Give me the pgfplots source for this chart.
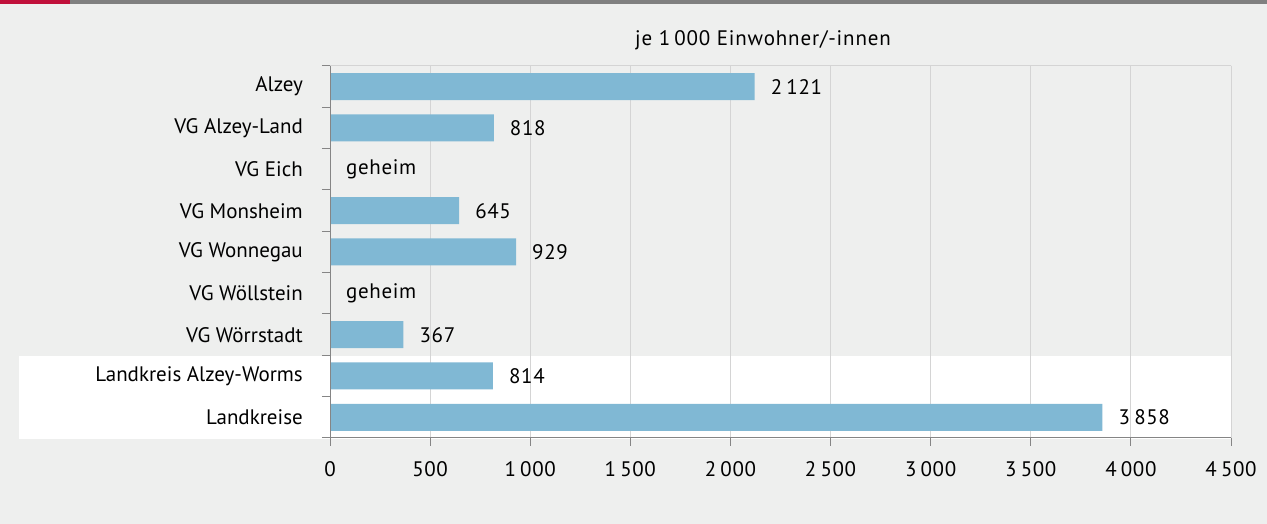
\documentclass[border=0pt]{standalone}
\usepackage{fontspec}
\setmainfont{PT Sans}
\newfontfamily\numfont{PT Sans}[LetterSpace=3]
\newfontfamily\titlefont{PT Sans}[LetterSpace=4]
\newcommand\ts{\hspace{0.2em}}
\usepackage{pgfplots}
\pgfplotsset{compat=1.18}
\definecolor{bg}{HTML}{EEEFEE}
\definecolor{barc}{HTML}{80B8D4}
\definecolor{gridc}{HTML}{D4D4D4}
\definecolor{axc}{HTML}{858585}
\definecolor{topred}{HTML}{C0103A}
\definecolor{topgray}{HTML}{808080}
\begin{document}
\fontsize{21}{25}\selectfont
\begin{tikzpicture}[font=\fontsize{21}{25}\selectfont]
\useasboundingbox (0,0) rectangle (1267pt,524pt);
\fill[bg] (0,0) rectangle (1267pt,524pt);
\fill[topgray] (0,520pt) rectangle (1267pt,524pt);
\fill[topred] (0,520pt) rectangle (70pt,524pt);
\fill[white] (19pt,85pt) rectangle (1232pt,168pt);
\node[anchor=base, inner sep=0pt, font=\fontsize{21}{25}\titlefont] at (763pt,478pt) {je 1\ts000 Einwohner/-innen};
\begin{axis}[
  at={(330pt,86pt)}, anchor=south west,
  scale only axis, width=901pt, height=372pt,
  xbar, bar width=27pt,
  xmin=0, xmax=4500, ymin=-0.5, ymax=8.5,
  xtick={0,500,...,4500},
  xtick pos=bottom, ytick pos=left,
  scaled x ticks=false,
  xticklabel style={inner sep=0pt, yshift=-15pt, font=\fontsize{21}{25}\numfont, /pgf/number format/.cd, 1000 sep={\ts}, assume math mode=true},
  ytick={-0.5,0.5,...,8.5},
  yticklabels={},
  extra y ticks={0,1,2,3,4,5,6,7,8},
  extra y tick labels={Landkreise,Landkreis Alzey-Worms,VG Wörrstadt,VG Wöllstein,VG Wonnegau,VG Monsheim,VG Eich,VG Alzey-Land,Alzey},
  extra y tick style={major tick length=0pt, yticklabel style={inner sep=0pt, anchor=east, xshift=-27pt}},
  axis line style={draw=none},
  xmajorgrids, major grid style={gridc, line width=1pt},
  tick align=outside,
  tick style={axc, line width=1pt},
  major tick length=8pt,
  nodes near coords, point meta=explicit symbolic,
  nodes near coords style={anchor=west, inner sep=0pt, xshift=16pt, font=\fontsize{21}{25}\numfont},
]
\addplot[fill=barc, draw=none] coordinates {
  (2121,8) [2\ts121]
  (818,7) [818]
  (0,6) [geheim]
  (645,5) [645]
  (929,4) [929]
  (0,3) [geheim]
  (367,2) [367]
  (814,1) [814]
  (3858,0) [3\ts858]
};
\draw[gridc, line width=1pt] (rel axis cs:0,1) -- (rel axis cs:1,1) -- (rel axis cs:1,0);
\draw[axc, line width=1.2pt] (rel axis cs:0,1) -- (rel axis cs:0,0) -- (rel axis cs:1,0);
\end{axis}
\end{tikzpicture}
\end{document}
